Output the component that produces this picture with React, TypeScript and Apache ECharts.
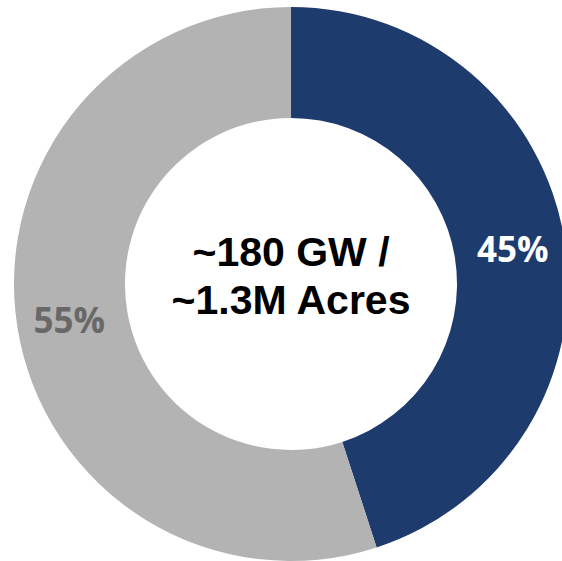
import React, { useEffect, useRef } from "react";
import * as echarts from "echarts";

const categories = ["Share A", "Share B"];
const values = [45, 55];
const colors = ["#1E3B6D", "#B3B3B3"];
const labelColors = ["#FFFFFF", "#686868"];
const centerLines = ["~180 GW /", "~1.3M Acres"];

export default function App() {
  const ref = useRef<HTMLDivElement>(null);
  useEffect(() => {
    if (!ref.current) return;
    const chart = echarts.init(ref.current, undefined, { renderer: "svg" });
    chart.setOption({
      animation: false,
      series: [
        {
          type: "pie",
          center: [291, 284],
          radius: [166, 277],
          startAngle: 90,
          clockwise: true,
          silent: true,
          data: categories.map((c, i) => ({
            name: c,
            value: values[i],
            itemStyle: { color: colors[i] },
            label: { color: labelColors[i] },
          })),
          label: {
            show: true,
            position: "inside",
            formatter: (p: any) => `${p.value}%`,
            fontFamily: "Open Sans",
            fontWeight: "bold",
            fontSize: 35,
          },
          labelLine: { show: false },
        },
      ],
      graphic: centerLines.map((t, i) => ({
        type: "text",
        x: 291,
        y: 252 + i * 47.5,
        style: {
          text: t,
          fill: "#000000",
          fontFamily: "Liberation Sans",
          fontWeight: "bold",
          fontSize: 41,
          align: "center",
          verticalAlign: "middle",
        },
      })),
    });
    return () => chart.dispose();
  }, []);
  return (
    <div
      ref={ref}
      style={{ position: "fixed", left: 0, top: 0, width: 562, height: 561, background: "#fff" }}
    />
  );
}
